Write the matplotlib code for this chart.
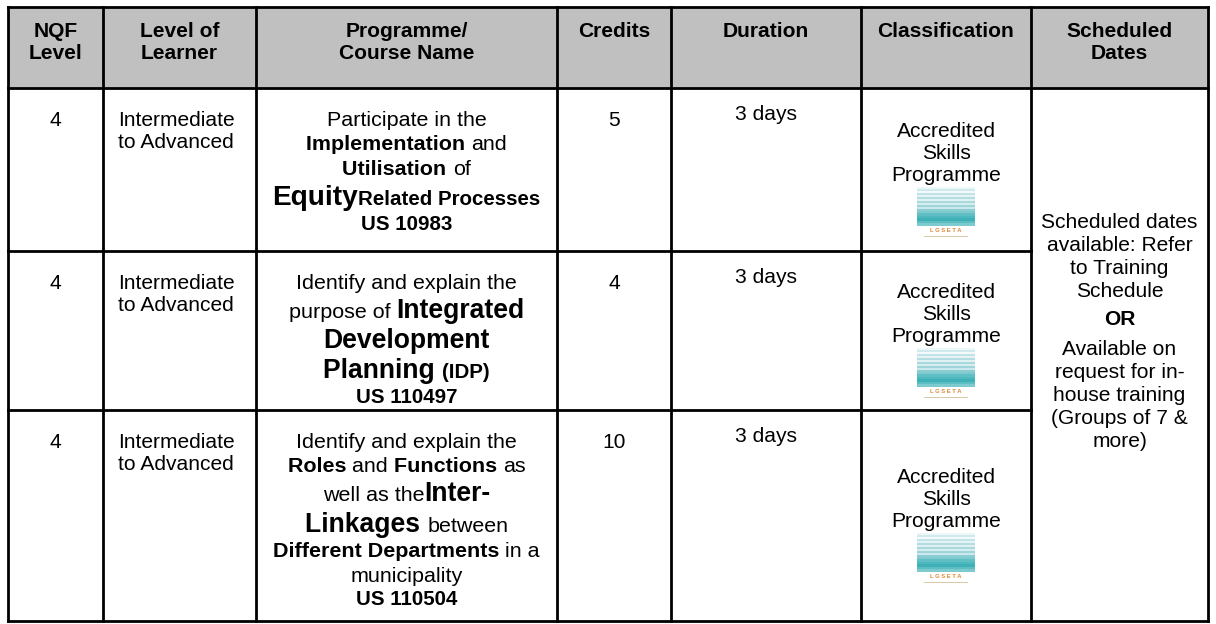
import matplotlib.pyplot as plt
from matplotlib.patches import Rectangle

plt.rcParams['font.family'] = ['Liberation Sans', 'DejaVu Sans']

# TABLE CONTENT
headers = ['NQF\nLevel', 'Level of\nLearner', 'Programme/\nCourse Name', 'Credits',
           'Duration', 'Classification', 'Scheduled\nDates']
nqf_level = ['4', '4', '4']
learner_level = ['Intermediate\nto Advanced'] * 3
credits = ['5', '4', '10']
duration = ['3 days'] * 3
classification = ['Accredited\nSkills\nProgramme'] * 3
scheduled = ['Scheduled dates\navailable: Refer\nto Training\nSchedule',
             'OR',
             'Available on\nrequest for in-\nhouse training\n(Groups of 7 &\nmore)']

# course names: each line is a list of (text, bold, size key)
course_1 = [
    [('Participate in the', False, 'm')],
    [('Implementation ', True, 'm'), ('and', False, 'm')],
    [('Utilisation ', True, 'm'), ('of', False, 'm')],
    [('Equity', True, 'x'), ('Related Processes', True, 's')],
    [('US 10983', True, 's')],
]
course_2 = [
    [('Identify and explain the', False, 'm')],
    [('purpose of ', False, 'm'), ('Integrated', True, 'l')],
    [('Development', True, 'l')],
    [('Planning ', True, 'l'), ('(IDP)', True, 's')],
    [('US 110497', True, 's')],
]
course_3 = [
    [('Identify and explain the', False, 'm')],
    [('Roles ', True, 'm'), ('and ', False, 'm'), ('Functions ', True, 'm'), ('as', False, 'm')],
    [('well as the', False, 'm'), ('Inter-', True, 'l')],
    [('Linkages ', True, 'l'), ('between', False, 'm')],
    [('Different Departments ', True, 'm'), ('in a', False, 'm')],
    [('municipality', False, 'm')],
    [('US 110504', True, 's')],
]
courses = [course_1, course_2, course_3]

# LAYOUT (pixels)
col_edges = [8, 103, 256, 557, 671, 861, 1031, 1208]
row_edges = [7, 88, 251, 410, 621]
sizes = {'m': 21.5, 'l': 26.5, 'x': 28, 's': 20.5}
body = 21
PT = 0.72  # points per pixel at 100 dpi
lw = 2.0

fig = plt.figure(figsize=(12.16, 6.24), dpi=100)
ax = fig.add_axes([0, 0, 1, 1])
ax.set_xlim(0, 1216)
ax.set_ylim(624, 0)
ax.axis('off')
renderer = fig.canvas.get_renderer()


def width(s, size, bold):
    # measure with bars around so the spaces count too
    w = 0
    for txt, sign in (('|' + s + '|', 1), ('||', -1)):
        t = ax.text(0, 0, txt, fontsize=size * PT, fontweight='bold' if bold else 'normal')
        w += sign * t.get_window_extent(renderer).width
        t.remove()
    return w


def rich_line(cx, yc, runs):
    big = max(sizes[k] for _, _, k in runs)
    base = yc + 0.36 * big
    ws = [width(s, sizes[k], b) for s, b, k in runs]
    x = cx - sum(ws) / 2
    for (s, b, k), w in zip(runs, ws):
        ax.text(x, base, s, fontsize=sizes[k] * PT, fontweight='bold' if b else 'normal',
                ha='left', va='baseline')
        x += w


def plain(x, yc, text, size=body, bold=False, ha='center', step=22.5):
    for i, line in enumerate(text.split('\n')):
        ax.text(x, yc + i * step + 0.36 * size, line, fontsize=size * PT,
                fontweight='bold' if bold else 'normal', ha=ha, va='baseline')


def logo(cx, top):
    w = 58
    pale = ['#eef7f8', '#cfe9ec', '#f4fafb', '#bfe3e6', '#e6f3f5', '#b3dde1',
            '#e0f1f3', '#a9d9dd', '#d6eef0', '#9fd4d8', '#cbe9ec', '#8ccdd2']
    for i, c in enumerate(pale):
        ax.add_patch(Rectangle((cx - w / 2, top + i * 2), w, 2, color=c, lw=0))
    teal = ['#7fcace', '#5fbfc4', '#4db8bd', '#3fb1b6', '#5cbec2', '#7ecbcf']
    for i, c in enumerate(teal):
        ax.add_patch(Rectangle((cx - w / 2, top + 24 + i * 2.5), w, 2.5, color=c, lw=0))
    ax.text(cx, top + 44, 'L G S E T A', fontsize=4.2, fontweight='bold',
            color='#d9893a', ha='center', va='center')
    ax.add_patch(Rectangle((cx - 22, top + 49), 44, 1.5, color='#d8c9a8', lw=0))


# header background
ax.add_patch(Rectangle((col_edges[0], row_edges[0]), col_edges[-1] - col_edges[0],
                       row_edges[1] - row_edges[0], color='#c0c0c0', lw=0))

centers = [(a + b) / 2 for a, b in zip(col_edges[:-1], col_edges[1:])]
for cx, h in zip(centers, headers):
    plain(cx, row_edges[0] + 22, h, bold=True, step=22)

for r in range(3):
    top = row_edges[r + 1]
    mid = (row_edges[r + 1] + row_edges[r + 2]) / 2
    plain(centers[0], top + 30, nqf_level[r])
    plain(col_edges[1] + 15, top + 30, learner_level[r], ha='left', step=22)
    plain(centers[3], top + 30, credits[r])
    plain(centers[4], top + 24, duration[r])
    plain(centers[5], mid - 40, classification[r], step=22)
    logo(centers[5], mid + 17)
    y = top + 30
    prev = None
    for line in courses[r]:
        h = 1.14 * max(sizes[k] for _, _, k in line)
        if prev is not None:
            y += (prev + h) / 2
        rich_line(centers[2], y, line)
        prev = h

# merged scheduled-dates cell
plain(centers[6], 220, scheduled[0], step=23)
plain(centers[6], 317, scheduled[1], bold=True)
plain(centers[6], 347, scheduled[2], step=23)

# grid lines
for x in col_edges:
    ax.plot([x, x], [row_edges[0], row_edges[-1]], color='black', lw=lw, solid_capstyle='projecting')
for i, y in enumerate(row_edges):
    right = col_edges[-1] if i in (0, 1, len(row_edges) - 1) else col_edges[-2]
    ax.plot([col_edges[0], right], [y, y], color='black', lw=lw, solid_capstyle='projecting')

fig.savefig('out.png', dpi=100)
